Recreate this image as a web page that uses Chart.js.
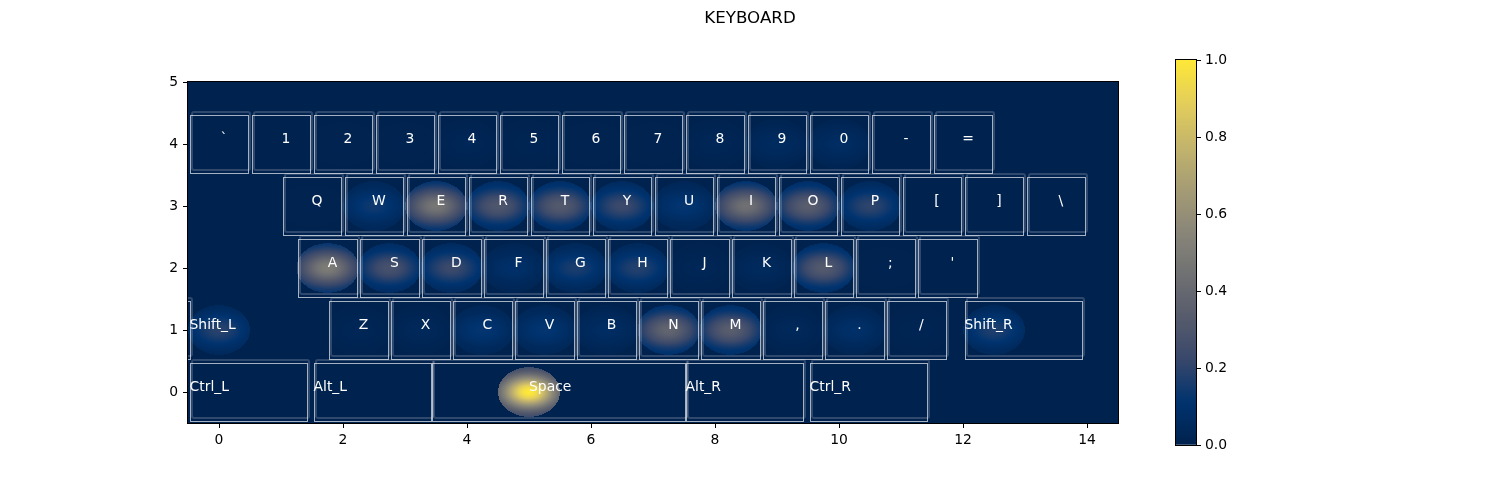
<!DOCTYPE html>
<html><head><meta charset="utf-8">
<script src="https://cdn.jsdelivr.net/npm/chart.js@4.4.1/dist/chart.umd.min.js"></script>
<style>
html,body{margin:0;padding:0;background:#fff;}
#wrap{position:relative;width:1500px;height:500px;overflow:hidden;}
#main{position:absolute;left:0;top:0;}
#cbar{position:absolute;left:1100px;top:0;}
</style></head><body>
<div id="wrap"><canvas id="main" width="1500" height="500"></canvas><canvas id="cbar" width="200" height="500"></canvas></div>
<script>
// ---------------- data ----------------
const chartTitle = 'KEYBOARD';
const keyLabels = ['`','1','2','3','4','5','6','7','8','9','0','-','=',
  'Q','W','E','R','T','Y','U','I','O','P','[',']','\\',
  'A','S','D','F','G','H','J','K','L',';',"'",
  'Shift_L','Z','X','C','V','B','N','M',',','.','/','Shift_R',
  'Ctrl_L','Alt_L','Space','Alt_R','Ctrl_R'];
const keyX = [0,1,2,3,4,5,6,7,8,9,10,11,12,
  1.5,2.5,3.5,4.5,5.5,6.5,7.5,8.5,9.5,10.5,11.5,12.5,13.5,
  1.75,2.75,3.75,4.75,5.75,6.75,7.75,8.75,9.75,10.75,11.75,
  0,2.25,3.25,4.25,5.25,6.25,7.25,8.25,9.25,10.25,11.25,12.5,
  0,2,5,8,10];
const keyY = [4,4,4,4,4,4,4,4,4,4,4,4,4,
  3,3,3,3,3,3,3,3,3,3,3,3,3,
  2,2,2,2,2,2,2,2,2,2,2,
  1,1,1,1,1,1,1,1,1,1,1,1,
  0,0,0,0,0];
// normalised key-press frequency
const keyPress = [0,0,0.01,0.01,0.03,0.02,0.01,0.01,0.03,0.06,0.07,0,0,
  0.01,0.14,0.47,0.30,0.32,0.23,0.12,0.44,0.34,0.20,0,0,0,
  0.50,0.27,0.23,0.09,0.16,0.18,0.03,0.05,0.32,0.01,0,
  0.19,0.03,0.04,0.12,0.12,0.07,0.38,0.34,0.04,0.09,0.02,0.17,
  0,0,1.0,0,0];
// key widths in key units
const keyWidth = [1,1,1,1,1,1,1,1,1,1,1,1,1,
  1,1,1,1,1,1,1,1,1,1,1,1,1,
  1,1,1,1,1,1,1,1,1,1,1,
  2,1,1,1,1,1,1,1,1,1,1,2,
  2,2,4.3,2,2];
// keys whose outline / label do not follow the default layout
const keyRectStart = {'Space':3.43,'Shift_L':-2.375};
const keyLabelStart = {'Space':5.0};
const xTickValues = [0,2,4,6,8,10,12,14];
const yTickValues = [0,1,2,3,4,5];
const cbTickValues = [0,0.2,0.4,0.6,0.8,1.0];

// ---------------- colormap (cividis) ----------------
const CIVIDIS = [[0,0,34,78],[0.111,0,51,111],[0.222,57,72,107],[0.333,87,92,109],[0.444,112,113,115],
  [0.556,138,135,121],[0.667,166,157,117],[0.778,196,181,108],[0.889,228,207,91],[1,254,232,56]];
function cividis(t){
  t = Math.max(0, Math.min(1, t));
  for (let i = 1; i < CIVIDIS.length; i++){
    const a = CIVIDIS[i-1], b = CIVIDIS[i];
    if (t <= b[0]){
      const f = (t - a[0])/(b[0]-a[0]);
      return [a[1]+(b[1]-a[1])*f, a[2]+(b[2]-a[2])*f, a[3]+(b[3]-a[3])*f];
    }
  }
  const l = CIVIDIS[CIVIDIS.length-1]; return [l[1],l[2],l[3]];
}

Chart.defaults.font.family = '"DejaVu Sans", sans-serif';
Chart.defaults.color = '#000';
const tickFont = {size: 13.9};

// blob shape (data units)
const RX = 0.5, RY = 0.4, SX = 0.32, SY = 0.19, FLOOR = 0.15;
const HALF = 0.475;

const keyboardPlugin = {
  id: 'keyboard',
  beforeDatasetsDraw(chart){
    const {ctx, chartArea: a, scales: {x, y}} = chart;
    const L = Math.round(a.left), T = Math.round(a.top);
    const w = Math.round(a.right) - L, h = Math.round(a.bottom) - T;
    const off = document.createElement('canvas'); off.width = w; off.height = h;
    const octx = off.getContext('2d');
    const img = octx.createImageData(w, h);
    const xs = new Float64Array(w), ys = new Float64Array(h);
    for (let i = 0; i < w; i++) xs[i] = x.getValueForPixel(L + i + 0.5);
    for (let j = 0; j < h; j++) ys[j] = y.getValueForPixel(T + j + 0.5);
    const active = [];
    for (let k = 0; k < keyLabels.length; k++) if (keyPress[k] > 0) active.push(k);
    for (let j = 0; j < h; j++){
      for (let i = 0; i < w; i++){
        let v = 0;
        for (const k of active){
          const dx = xs[i] - keyX[k], dy = ys[j] - keyY[k];
          if (Math.abs(dx) > RX || Math.abs(dy) > RY) continue;
          const e = (dx*dx)/(RX*RX) + (dy*dy)/(RY*RY);
          if (e > 1) continue;
          const g = Math.exp(-(dx*dx/(2*SX*SX) + dy*dy/(2*SY*SY)));
          v += keyPress[k] * (FLOOR + (1-FLOOR)*g);
        }
        const c = cividis(v);
        const p = (j*w + i)*4;
        img.data[p] = c[0]; img.data[p+1] = c[1]; img.data[p+2] = c[2]; img.data[p+3] = 255;
      }
    }
    octx.putImageData(img, 0, 0);
    ctx.save();
    ctx.drawImage(off, L, T);
    ctx.beginPath(); ctx.rect(L, T, w, h); ctx.clip();
    // key outlines
    const rects = keyLabels.map((lab, k) => {
      const x0 = (lab in keyRectStart) ? keyRectStart[lab] : keyX[k] - HALF;
      const x1 = x0 + (keyWidth[k] === 1 ? 2*HALF : keyWidth[k]*2*HALF);
      return [x.getPixelForValue(x0), x.getPixelForValue(x1), y.getPixelForValue(keyY[k] + HALF), y.getPixelForValue(keyY[k] - HALF)];
    });
    ctx.lineWidth = 2;
    ctx.strokeStyle = 'rgba(255,255,255,0.18)';
    for (const r of rects){
      ctx.beginPath();
      ctx.roundRect(Math.round(r[0]) + 2, Math.round(r[2]) - 3, Math.round(r[1]) - Math.round(r[0]), Math.round(r[3]) - Math.round(r[2]), 2);
      ctx.stroke();
    }
    ctx.lineWidth = 1;
    ctx.strokeStyle = 'rgba(255,255,255,0.65)';
    for (const r of rects){
      ctx.strokeRect(Math.round(r[0]) + 0.5, Math.round(r[2]) + 0.5, Math.round(r[1]) - Math.round(r[0]), Math.round(r[3]) - Math.round(r[2]));
    }
    // labels
    ctx.fillStyle = '#fff';
    ctx.font = '13.9px "DejaVu Sans"';
    ctx.textBaseline = 'middle';
    keyLabels.forEach((lab, k) => {
      const py = y.getPixelForValue(keyY[k] + 0.07);
      if (keyWidth[k] === 1){
        ctx.textAlign = 'center';
        ctx.fillText(lab, x.getPixelForValue(keyX[k] + 0.08), py);
      } else {
        ctx.textAlign = 'left';
        const tx = (lab in keyLabelStart) ? keyLabelStart[lab] : keyX[k] - HALF;
        ctx.fillText(lab, x.getPixelForValue(tx), py);
      }
    });
    ctx.restore();
  },
  afterDraw(chart){
    const {ctx, chartArea: a} = chart;
    ctx.save();
    ctx.strokeStyle = '#000'; ctx.lineWidth = 1;
    ctx.strokeRect(Math.round(a.left) - 0.5, Math.round(a.top) - 0.5, Math.round(a.right) - Math.round(a.left) + 1, Math.round(a.bottom) - Math.round(a.top) + 1);
    ctx.fillStyle = '#000';
    ctx.font = '16.7px "DejaVu Sans"';
    ctx.textAlign = 'center'; ctx.textBaseline = 'middle';
    ctx.fillText(chartTitle, 750, 19);
    ctx.restore();
  }
};

const axisGrid = {drawOnChartArea: false, drawTicks: true, tickLength: 5, color: '#000', tickColor: '#000', lineWidth: 1};

new Chart(document.getElementById('main'), {
  type: 'scatter',
  data: {datasets: [{data: keyLabels.map((l, i) => ({x: keyX[i], y: keyY[i]})), pointRadius: 0, pointHoverRadius: 0}]},
  options: {
    responsive: false, animation: false, events: [],
    layout: {padding: {left: 0, right: 382, top: 82, bottom: 0}},
    plugins: {legend: {display: false}, tooltip: {enabled: false}, title: {display: false}},
    scales: {
      x: {type: 'linear', min: -0.5, max: 14.5,
          afterBuildTicks: s => { s.ticks = xTickValues.map(v => ({value: v})); },
          afterFit: s => { s.height = 77; },
          grid: axisGrid, border: {display: false},
          ticks: {color: '#000', font: tickFont, padding: 4, maxRotation: 0, autoSkip: false, callback: v => String(v)}},
      y: {type: 'linear', min: -0.5, max: 5,
          afterBuildTicks: s => { s.ticks = yTickValues.map(v => ({value: v})); },
          afterFit: s => { s.width = 188; },
          grid: axisGrid, border: {display: false},
          ticks: {color: '#000', font: tickFont, padding: 5, autoSkip: false, callback: v => String(v)}}
    }
  },
  plugins: [keyboardPlugin]
});

// ---------------- colorbar ----------------
const cbOutline = {
  id: 'cbOutline',
  afterDraw(chart){
    const {ctx, chartArea: a} = chart;
    ctx.save(); ctx.strokeStyle = '#000'; ctx.lineWidth = 1;
    ctx.strokeRect(Math.round(a.left) - 0.5, Math.round(a.top) - 0.5, Math.round(a.right) - Math.round(a.left) + 1, Math.round(a.bottom) - Math.round(a.top) + 1);
    ctx.restore();
  }
};
new Chart(document.getElementById('cbar'), {
  type: 'bar',
  data: {labels: [''], datasets: [{data: [[0, 1]], borderWidth: 0, barPercentage: 1, categoryPercentage: 1,
    backgroundColor: (c) => {
      const a = c.chart.chartArea; if (!a) return '#000';
      const g = c.chart.ctx.createLinearGradient(0, a.bottom, 0, a.top);
      for (let i = 0; i <= 50; i++){ const t = i/50; const col = cividis(t); g.addColorStop(t, `rgb(${col[0]|0},${col[1]|0},${col[2]|0})`); }
      return g;
    }}]},
  options: {
    responsive: false, animation: false, events: [],
    layout: {padding: {left: 76, right: 0, top: 60, bottom: 55}},
    plugins: {legend: {display: false}, tooltip: {enabled: false}},
    scales: {
      x: {display: false},
      y: {position: 'right', min: 0, max: 1,
          afterBuildTicks: s => { s.ticks = cbTickValues.map(v => ({value: v})); },
          afterFit: s => { s.width = 104; },
          grid: axisGrid, border: {display: false},
          ticks: {color: '#000', font: tickFont, padding: 4, autoSkip: false, callback: v => Number(v).toFixed(1)}}
    }
  },
  plugins: [cbOutline]
});
</script>
</body></html>
